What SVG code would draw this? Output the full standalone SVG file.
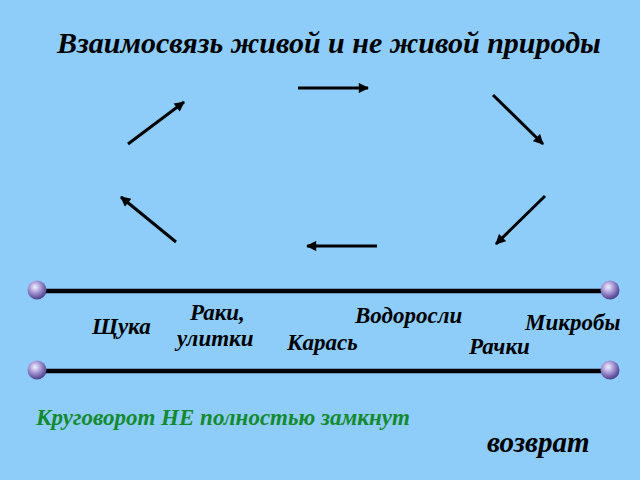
<svg xmlns="http://www.w3.org/2000/svg" width="640" height="480" viewBox="0 0 640 480">
<defs>
<style>
text{font-family:"Liberation Serif","Times New Roman",serif;font-weight:bold;font-style:italic;fill:#000}
.lbl{font-size:23px}
.arr{stroke:#000;stroke-width:3;fill:none;marker-end:url(#ah)}
.rail{stroke:#000;stroke-width:4.5}
</style>
<marker id="ah" viewBox="0 0 10 10" refX="9" refY="5" markerWidth="3.8" markerHeight="3.4" orient="auto" markerUnits="strokeWidth">
<path d="M0,0 L10,5 L0,10 z" fill="#000"/>
</marker>
<radialGradient id="ball" cx="0.4" cy="0.35" r="0.65">
<stop offset="0" stop-color="#f6f0fd"/>
<stop offset="0.45" stop-color="#a99bd8"/>
<stop offset="1" stop-color="#4d3e8a"/>
</radialGradient>
</defs>
<rect width="640" height="480" fill="#8ecdfa"/>
<text id="title" x="57" y="53" font-size="30">Взаимосвязь живой и не живой природы</text>
<g id="connectors">
<line class="arr" x1="298" y1="88" x2="368" y2="88"/>
<line class="arr" x1="493" y1="95" x2="543" y2="144"/>
<line class="arr" x1="545" y1="196" x2="496" y2="244"/>
<line class="arr" x1="377" y1="246" x2="307" y2="246"/>
<line class="arr" x1="176" y1="242" x2="121" y2="197"/>
<line class="arr" x1="128" y1="144" x2="184" y2="102"/>
</g>
<g id="rail-top">
<line class="rail" x1="37" y1="291" x2="610" y2="291"/>
<circle cx="37" cy="290" r="9.5" fill="url(#ball)"/>
<circle cx="610" cy="290" r="9.5" fill="url(#ball)"/>
</g>
<g id="rail-bottom">
<line class="rail" x1="37" y1="371" x2="610" y2="371"/>
<circle cx="37" cy="370" r="9.5" fill="url(#ball)"/>
<circle cx="610" cy="370" r="9.5" fill="url(#ball)"/>
</g>
<g id="node-shuka"><text class="lbl" x="92" y="334">Щука</text></g>
<g id="node-raki"><text class="lbl" x="190" y="320">Раки,</text><text class="lbl" x="177" y="346">улитки</text></g>
<g id="node-karas"><text class="lbl" x="287" y="350">Карась</text></g>
<g id="node-vodorosli"><text class="lbl" x="355" y="323">Водоросли</text></g>
<g id="node-mikroby"><text class="lbl" x="525" y="330">Микробы</text></g>
<g id="node-rachki"><text class="lbl" x="469" y="354">Рачки</text></g>
<text id="note" x="36" y="425" font-size="23" style="fill:#148a2e">Круговорот НЕ полностью замкнут</text>
<text id="vozvrat" x="487" y="452" font-size="29">возврат</text>
</svg>
